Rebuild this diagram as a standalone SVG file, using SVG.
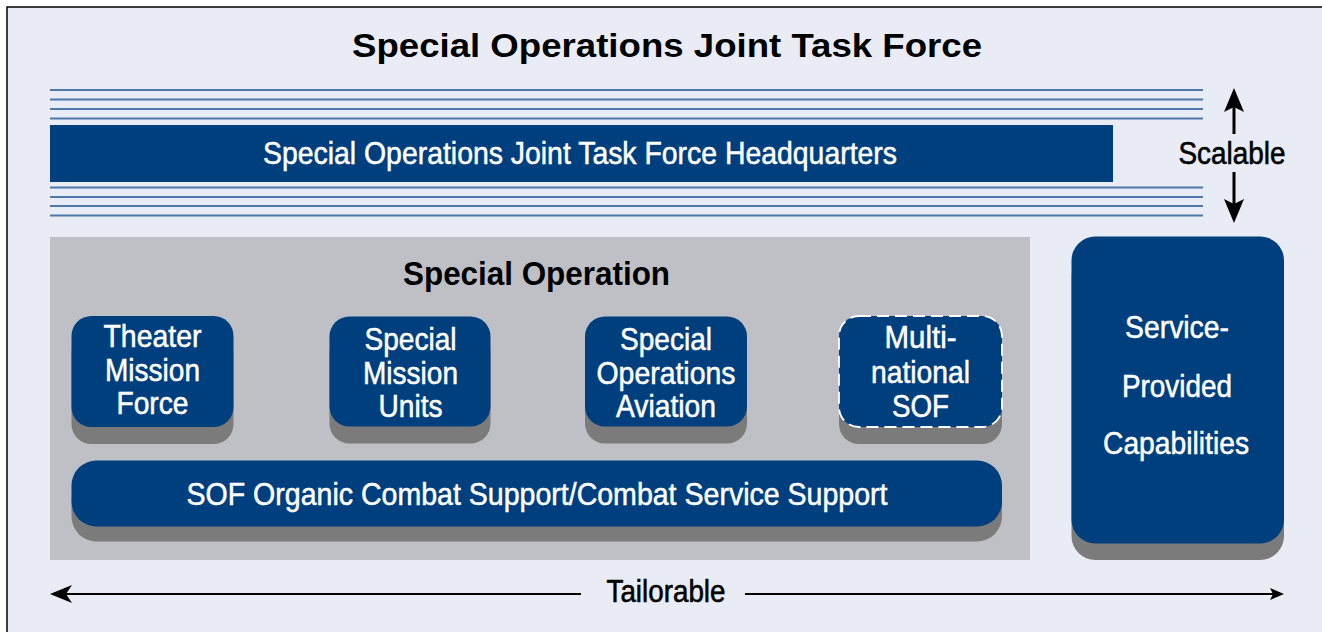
<svg xmlns="http://www.w3.org/2000/svg" width="1322" height="632" viewBox="0 0 1322 632">
<style>
.t{font-family:"Liberation Sans",Arial,sans-serif;}
.w{fill:#ffffff;font-size:30.5px;text-anchor:middle;stroke:#ffffff;stroke-width:0.5;}
.k{fill:#000000;text-anchor:middle;}
.m{stroke:#000;stroke-width:0.6;}
.box{fill:#003f7d;}
.sh{fill:#7b7b7b;}
.ln{stroke:#4d79aa;stroke-width:1.8;fill:none;}
.ar{stroke:#000;fill:none;}
</style>
<rect x="0" y="0" width="1322" height="632" fill="#ffffff"/>
<rect x="7" y="7" width="1330" height="640" fill="#e9ecf5" stroke="#000" stroke-width="1.5"/>
<g id="title">
<text class="t k" x="667" y="57" font-size="33" font-weight="bold" textLength="630" lengthAdjust="spacingAndGlyphs">Special Operations Joint Task Force</text>
</g>
<g id="hq">
<g class="ln">
<line x1="50" y1="90" x2="1203" y2="90"/>
<line x1="50" y1="99.5" x2="1203" y2="99.5"/>
<line x1="50" y1="109" x2="1203" y2="109"/>
<line x1="50" y1="118.5" x2="1203" y2="118.5"/>
<line x1="50" y1="187.5" x2="1203" y2="187.5"/>
<line x1="50" y1="197" x2="1203" y2="197"/>
<line x1="50" y1="206" x2="1203" y2="206"/>
<line x1="50" y1="215.5" x2="1203" y2="215.5"/>
</g>
<rect class="box" x="50" y="125" width="1063" height="57"/>
<text class="t w" x="580" y="163.5" font-size="29" textLength="634" lengthAdjust="spacingAndGlyphs">Special Operations Joint Task Force Headquarters</text>
</g>
<g id="special-operation">
<rect x="50" y="237" width="980" height="323" fill="#bfc0c5"/>
<text class="t k" x="536.5" y="285" font-size="33.5" textLength="267" lengthAdjust="spacingAndGlyphs" font-weight="bold">Special Operation</text>
</g>
<g id="theater-mission-force">
<rect class="sh" x="71.5" y="333" width="162" height="111" rx="20"/>
<rect class="box" x="71.5" y="316" width="162" height="111" rx="20"/>
<text class="t w" x="152.5" y="346.7" textLength="98" lengthAdjust="spacingAndGlyphs">Theater</text>
<text class="t w" x="152.5" y="381" textLength="95" lengthAdjust="spacingAndGlyphs">Mission</text>
<text class="t w" x="152.5" y="414" textLength="72" lengthAdjust="spacingAndGlyphs">Force</text>
</g>
<g id="special-mission-units">
<rect class="sh" x="329.5" y="333.5" width="161" height="110" rx="20"/>
<rect class="box" x="329.5" y="316.5" width="161" height="110" rx="20"/>
<text class="t w" x="410.5" y="350" textLength="92" lengthAdjust="spacingAndGlyphs">Special</text>
<text class="t w" x="410.5" y="383.5" textLength="95" lengthAdjust="spacingAndGlyphs">Mission</text>
<text class="t w" x="410.5" y="416.7" textLength="64" lengthAdjust="spacingAndGlyphs">Units</text>
</g>
<g id="special-operations-aviation">
<rect class="sh" x="585" y="333.5" width="162" height="110" rx="20"/>
<rect class="box" x="585" y="316.5" width="162" height="110" rx="20"/>
<text class="t w" x="666" y="350" textLength="92" lengthAdjust="spacingAndGlyphs">Special</text>
<text class="t w" x="666" y="383.5" textLength="139" lengthAdjust="spacingAndGlyphs">Operations</text>
<text class="t w" x="666" y="416.7" textLength="100" lengthAdjust="spacingAndGlyphs">Aviation</text>
</g>
<g id="multinational-sof">
<rect class="sh" x="839" y="333" width="163" height="111" rx="20"/>
<rect class="box" x="839" y="316" width="163" height="111" rx="20" stroke="#ffffff" stroke-width="1.8" stroke-dasharray="12 6"/>
<text class="t w" x="920.5" y="348.3" textLength="72" lengthAdjust="spacingAndGlyphs">Multi-</text>
<text class="t w" x="920.5" y="383.3" textLength="99" lengthAdjust="spacingAndGlyphs">national</text>
<text class="t w" x="920.5" y="417.3" textLength="57" lengthAdjust="spacingAndGlyphs">SOF</text>
</g>
<g id="sof-organic-support">
<rect class="sh" x="71.5" y="477.5" width="930.5" height="64" rx="25"/>
<rect class="box" x="71.5" y="460.5" width="930.5" height="66" rx="25"/>
<text class="t w" x="537" y="505" textLength="701" lengthAdjust="spacingAndGlyphs">SOF Organic Combat Support/Combat Service Support</text>
</g>
<g id="service-provided-capabilities">
<rect class="sh" x="1071.5" y="253.5" width="212.5" height="306.5" rx="24"/>
<rect class="box" x="1071.5" y="236.5" width="212.5" height="307" rx="24"/>
<text class="t w" x="1177" y="338.3" textLength="104" lengthAdjust="spacingAndGlyphs">Service-</text>
<text class="t w" x="1177" y="396.7" textLength="110" lengthAdjust="spacingAndGlyphs">Provided</text>
<text class="t w" x="1176" y="454" textLength="146" lengthAdjust="spacingAndGlyphs">Capabilities</text>
</g>
<g id="connectors">
<line class="ar" x1="1234" y1="106" x2="1234" y2="134" stroke-width="3"/>
<path d="M1234,88 L1244,112 L1234,107 L1224,112 Z" fill="#000"/>
<line class="ar" x1="1234" y1="172" x2="1234" y2="205" stroke-width="3"/>
<path d="M1234,223 L1244,199 L1234,204 L1224,199 Z" fill="#000"/>
<text class="t k m" x="1232" y="164" font-size="31" textLength="107" lengthAdjust="spacingAndGlyphs">Scalable</text>
<line class="ar" x1="64" y1="594" x2="581" y2="594" stroke-width="2"/>
<path d="M50,594 L72,585 L66,594 L72,603 Z" fill="#000"/>
<line class="ar" x1="745" y1="594" x2="1274" y2="594" stroke-width="2"/>
<path d="M1284,594 L1270,588 L1273,594 L1270,600 Z" fill="#000"/>
<text class="t k m" x="666" y="601.7" font-size="31" textLength="119" lengthAdjust="spacingAndGlyphs">Tailorable</text>
</g>
</svg>
